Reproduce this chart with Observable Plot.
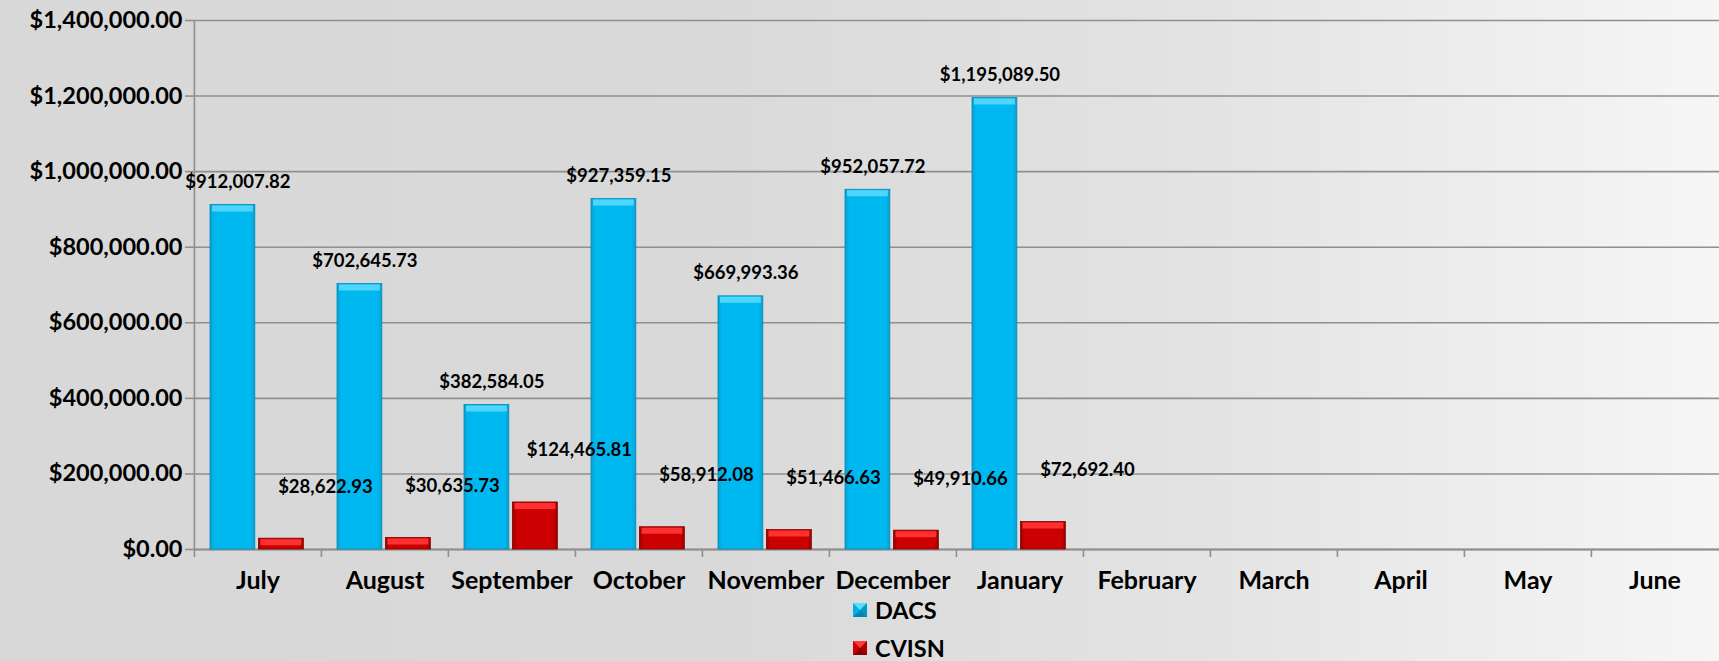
<!DOCTYPE html>
<html><head><meta charset="utf-8">
<script src="https://cdn.jsdelivr.net/npm/d3@7"></script>
<script src="https://cdn.jsdelivr.net/npm/@observablehq/plot@0.6"></script>
<style>
html,body{margin:0;padding:0;}
body{width:1719px;height:661px;overflow:hidden;background:linear-gradient(to right,#d8d8d8 0%,#d9d9d9 40%,#e3e3e3 70%,#f6f6f6 100%);font-family:Lato,"Open Sans",sans-serif;}
#chart svg{display:block;}
#legend{position:relative;width:1719px;height:61px;}
.item{position:absolute;left:853px;height:24px;line-height:24px;display:flex;align-items:center;font-weight:700;font-size:23.5px;color:#000;}
.sw{width:0;height:0;border-style:solid;border-width:7px 7.5px;margin-right:8px;}
</style></head>
<body>
<div id="chart"></div>
<div id="legend"></div>
<script>
// ---- data ----
const months = ["July","August","September","October","November","December","January","February","March","April","May","June"];
const dacs  = [912007.82, 702645.73, 382584.05, 927359.15, 669993.36, 952057.72, 1195089.50];
const cvisn = [28622.93, 30635.73, 124465.81, 58912.08, 51466.63, 49910.66, 72692.40];
const yTicks = [0, 200000, 400000, 600000, 800000, 1000000, 1200000, 1400000];
const seriesNames = ["DACS", "CVISN"];
const seriesColors = ["#00b8f0", "#cc0000"];

const rows = dacs.map((v, i) => ({month: months[i], dacs: v, cvisn: cvisn[i]}));

// ---- layout ----
const W = 1719, H = 600, ML = 193, MR = 0, MT = 20, MB = 51;
const bw = (W - ML - MR) / months.length;
const barW = 45, padL = 16, gap = 3.5;
const dIL = padL, dIR = bw - padL - barW;
const cIL = padL + barW + gap, cIR = bw - cIL - barW;
const fmt = d3.format("$,.2f");
const grid = "#8f8f8f";

const plot = Plot.plot({
  width: W, height: H,
  marginLeft: ML, marginRight: MR, marginTop: MT, marginBottom: MB,
  style: {background: "transparent", fontFamily: "Lato, 'Open Sans', sans-serif", color: "#000", overflow: "visible"},
  x: {domain: months, padding: 0, axis: null},
  y: {domain: [0, 1400000], axis: null},
  marks: [
    Plot.gridY(yTicks, {stroke: grid, strokeOpacity: 1, strokeWidth: 1.6}),
    Plot.ruleX([months[0]], {x: d => d, dx: -bw / 2, stroke: grid, strokeWidth: 1.6}),
    Plot.axisY(yTicks, {tickFormat: fmt, tickSize: 8, tickPadding: 3, stroke: grid, strokeWidth: 1.6,
      fontSize: 23.5, fontWeight: "bold", fill: "#000", label: null}),
    Plot.axisX({tickSize: 8, dx: -bw / 2, stroke: grid, strokeWidth: 1.6, fill: "none", label: null}),
    Plot.axisX({tickSize: 0, tickPadding: 22, fontSize: 25, fontWeight: "bold", fill: "#000", label: null}),
    Plot.ruleY([0], {stroke: grid, strokeWidth: 2}),
    Plot.barY(rows, {x: "month", y: "dacs", insetLeft: dIL, insetRight: dIR,
      fill: "url(#gDacs)", stroke: "#0789b5", strokeWidth: 0.8}),
    Plot.tickY(rows, {x: "month", y: "dacs", insetLeft: dIL + 2, insetRight: dIR + 2, dy: 3.5,
      stroke: "#4fd6ff", strokeWidth: 6}),
    Plot.barY(rows, {x: "month", y: "cvisn", insetLeft: cIL, insetRight: cIR,
      fill: "url(#gCvisn)", stroke: "#7a0000", strokeWidth: 0.8}),
    Plot.tickY(rows, {x: "month", y: "cvisn", insetLeft: cIL + 2, insetRight: cIR + 2, dy: 3.5,
      stroke: "#ff3030", strokeWidth: 6}),
    Plot.text(rows, {x: "month", y: "dacs", text: d => fmt(d.dacs), dx: dIL + barW / 2 - bw / 2 + 5, dy: -23,
      fontSize: 18.5, fontWeight: "bold", fill: "#000"}),
    Plot.text(rows, {x: "month", y: "cvisn", text: d => fmt(d.cvisn), dx: cIL + barW / 2 - bw / 2 + 44, dy: -52,
      fontSize: 18.5, fontWeight: "bold", fill: "#000"})
  ]
});

// gradients for the bevelled bars
const defs = d3.select(plot).insert("defs", ":first-child");
function grad(id, edge, mid) {
  const g = defs.append("linearGradient").attr("id", id).attr("x1", 0).attr("x2", 1).attr("y1", 0).attr("y2", 0);
  g.append("stop").attr("offset", "0%").attr("stop-color", edge);
  g.append("stop").attr("offset", "10%").attr("stop-color", mid);
  g.append("stop").attr("offset", "90%").attr("stop-color", mid);
  g.append("stop").attr("offset", "100%").attr("stop-color", edge);
}
grad("gDacs", "#0a9fd2", seriesColors[0]);
grad("gCvisn", "#a00000", seriesColors[1]);

document.getElementById("chart").appendChild(plot);

// legend
const swatchBorders = [
  "#5fdcff #0099cc #0086b5 #00b0e8",
  "#ff3a3a #a80000 #8a0000 #cc0000"
];
const legend = d3.select("#legend");
seriesNames.forEach((name, i) => {
  const it = legend.append("div").attr("class", "item").style("top", (i === 0 ? -2 : 36) + "px");
  it.append("span").attr("class", "sw").style("border-color", swatchBorders[i]);
  it.append("span").text(name);
});
</script>
</body></html>
